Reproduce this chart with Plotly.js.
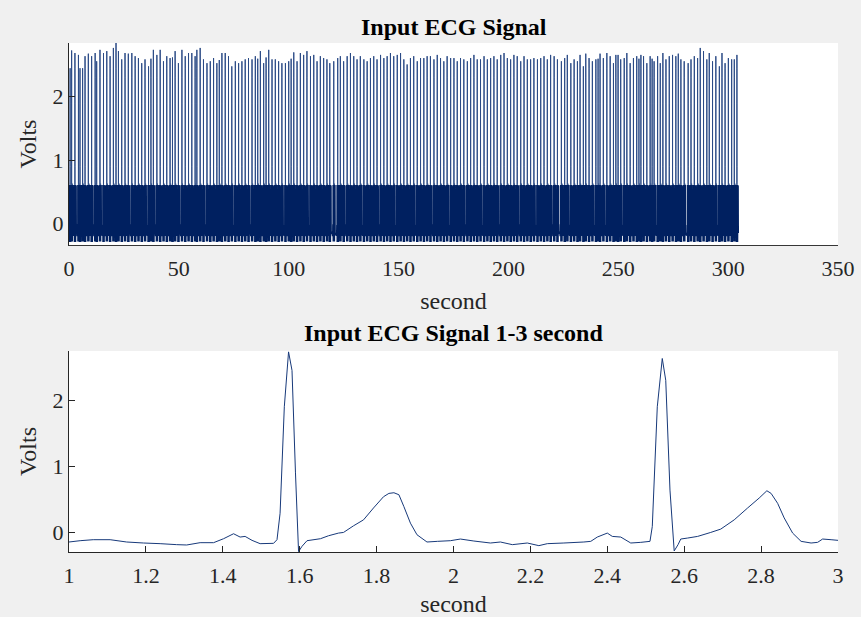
<!DOCTYPE html>
<html>
<head>
<meta charset="utf-8">
<script src="https://cdn.plot.ly/plotly-3.0.1.min.js"></script>
<style>
  html, body { margin: 0; padding: 0; background: #f0f0f0; }
  #chart { width: 861px; height: 617px; }
</style>
</head>
<body>
<div id="chart"></div>
<script>
// ---- Bottom panel: ECG samples 1-3 s ----
const ecgT = [1.000,1.029,1.063,1.107,1.150,1.194,1.237,1.280,1.306,1.341,1.376,1.402,1.428,1.445,1.458,1.476,1.497,1.532,1.541,1.549,1.560,1.571,1.580,1.589,1.597,1.606,1.619,1.654,1.675,1.701,1.714,1.740,1.766,1.792,1.818,1.832,1.845,1.858,1.871,1.888,1.905,1.931,1.958,1.992,2.018,2.053,2.096,2.122,2.153,2.192,2.222,2.244,2.287,2.339,2.357,2.374,2.400,2.413,2.435,2.461,2.487,2.511,2.517,2.530,2.543,2.552,2.563,2.574,2.584,2.591,2.609,2.635,2.669,2.695,2.730,2.765,2.795,2.815,2.826,2.843,2.860,2.882,2.904,2.930,2.947,2.960,2.982,3.000];
const ecgV = [-0.145,-0.125,-0.110,-0.110,-0.145,-0.160,-0.170,-0.185,-0.190,-0.155,-0.155,-0.095,-0.020,-0.070,-0.060,-0.120,-0.170,-0.165,-0.110,0.290,1.900,2.730,2.450,0.900,-0.290,-0.210,-0.125,-0.095,-0.050,-0.010,0.000,0.100,0.190,0.370,0.540,0.590,0.600,0.570,0.390,0.140,-0.035,-0.145,-0.135,-0.125,-0.100,-0.130,-0.160,-0.145,-0.185,-0.160,-0.200,-0.170,-0.160,-0.145,-0.135,-0.070,-0.010,-0.060,-0.070,-0.160,-0.150,-0.135,0.090,1.900,2.630,2.300,0.640,-0.280,-0.185,-0.100,-0.085,-0.060,0.000,0.050,0.190,0.370,0.520,0.630,0.590,0.440,0.220,-0.010,-0.135,-0.160,-0.150,-0.100,-0.110,-0.120];

// ---- Top panel: R-peak times (s) and heights (V) read from the full recording ----
const beatTimes = [0.5,1.2,2.7,4.3,5.0,6.2,7.3,8.8,10.3,11.9,12.6,14.1,15.7,17.2,18.7,20.2,21.4,22.5,24.0,25.5,27.0,28.6,30.1,31.6,33.1,34.6,36.2,37.3,38.4,40.0,41.5,43.0,44.5,46.0,47.1,48.3,49.8,51.4,52.9,54.4,55.9,57.4,58.2,59.7,61.2,62.8,64.3,65.8,67.3,68.4,69.6,71.1,72.6,74.1,75.7,77.2,78.7,80.2,81.7,83.3,84.8,85.9,87.1,88.6,89.7,90.9,92.4,93.9,95.4,96.9,98.5,100.0,101.1,102.3,103.8,105.3,106.8,108.3,109.9,
111.4,112.9,114.4,115.9,117.4,118.7,120.5,122.3,123.5,125.0,126.6,128.1,129.6,131.1,132.6,134.2,135.7,137.2,138.7,140.2,141.8,143.3,144.8,146.3,147.8,149.4,150.9,152.4,153.9,155.4,156.9,158.5,160.0,161.5,163.0,164.5,166.1,167.6,169.1,170.6,172.1,173.7,175.2,176.7,178.2,179.7,181.3,182.8,184.3,185.8,187.3,188.9,190.4,191.9,193.4,194.9,196.5,198.0,199.5,201.0,202.5,204.0,205.6,207.1,208.6,210.1,211.6,213.2,214.7,216.2,217.7,219.2,220.8,222.3,
224.1,225.6,226.8,228.4,229.9,231.4,232.6,234.1,235.2,236.7,238.2,239.8,240.8,241.7,243.2,244.8,246.3,247.8,248.9,249.9,251.1,252.7,253.9,255.4,256.9,258.4,259.4,260.3,261.5,263.0,264.5,265.4,266.3,267.9,269.1,270.3,271.7,273.2,274.7,276.2,277.3,278.5,280.0,281.8,283.1,284.6,286.1,287.3,288.8,290.3,291.4,292.9,294.4,296.0,297.2,298.6,300.1,301.6,302.8,304.0];
const beatPeaks = [2.45,2.73,2.69,2.66,2.43,2.45,2.64,2.68,2.64,2.69,2.56,2.74,2.69,2.72,2.64,2.77,2.85,2.72,2.59,2.69,2.68,2.69,2.64,2.61,2.53,2.59,2.48,2.60,2.74,2.66,2.74,2.56,2.64,2.61,2.62,2.72,2.53,2.74,2.64,2.69,2.69,2.64,2.74,2.77,2.59,2.53,2.56,2.61,2.53,2.58,2.69,2.69,2.64,2.48,2.56,2.53,2.56,2.59,2.61,2.59,2.64,2.60,2.72,2.53,2.62,2.74,2.59,2.59,2.56,2.53,2.53,2.56,2.60,2.70,2.56,2.69,2.66,2.72,2.64,
2.66,2.56,2.64,2.61,2.59,2.53,2.56,2.61,2.64,2.56,2.64,2.69,2.64,2.59,2.64,2.59,2.56,2.61,2.64,2.59,2.66,2.61,2.64,2.69,2.64,2.66,2.69,2.59,2.51,2.61,2.64,2.56,2.61,2.61,2.64,2.64,2.59,2.66,2.61,2.56,2.64,2.61,2.61,2.56,2.61,2.59,2.56,2.61,2.66,2.59,2.59,2.64,2.59,2.61,2.64,2.59,2.66,2.69,2.61,2.59,2.66,2.64,2.56,2.64,2.59,2.59,2.61,2.59,2.61,2.64,2.59,2.66,2.64,2.59,
2.56,2.61,2.66,2.53,2.59,2.56,2.66,2.48,2.68,2.61,2.56,2.59,2.60,2.68,2.61,2.69,2.64,2.53,2.66,2.66,2.59,2.61,2.69,2.53,2.61,2.64,2.60,2.66,2.64,2.53,2.64,2.60,2.56,2.64,2.53,2.69,2.59,2.64,2.66,2.64,2.68,2.59,2.56,2.53,2.59,2.64,2.61,2.77,2.72,2.59,2.69,2.56,2.64,2.48,2.69,2.53,2.61,2.59,2.59,2.66];

// beat shapes taken from the two cycles of the 1-3 s recording
const beatShapes = [
  { ref: 1.571, from: 1.22, to: 1.97 },
  { ref: 2.543, from: 2.19, to: 2.94 }
];

const topX = [], topY = [];
for (let k = 0; k < beatTimes.length; k++) {
  const s = beatShapes[k % 2];
  const tb = beatTimes[k];
  let limit = Infinity;
  if (k + 1 < beatTimes.length) {
    const sn = beatShapes[(k + 1) % 2];
    limit = beatTimes[k + 1] + (sn.from - sn.ref);
  }
  for (let i = 0; i < ecgT.length; i++) {
    const t = ecgT[i];
    if (t < s.from || t > s.to) continue;
    const x = tb + (t - s.ref);
    if (x < 0 || x >= limit) continue;
    topX.push(x);
    topY.push(Math.abs(t - s.ref) < 1e-9 ? beatPeaks[k] : ecgV[i]);
  }
}

const lineColor = '#002060';
const axisColor = '#262626';
const serif = 'Liberation Serif, Times New Roman, serif';
const tickFont = { family: serif, size: 22, color: axisColor };
const labelFont = { family: serif, size: 24, color: axisColor };

// top panel geometry: y range and a clipped copy of the same scale for the dense baseline band
const topRange = [-0.338, 2.848];
const topDomain = [0.603, 1];
const bandTop = 0.61;
const bandDomainTop = topDomain[0] + (bandTop - topRange[0]) / (topRange[1] - topRange[0]) * (topDomain[1] - topDomain[0]);

const axisCommon = {
  showline: true, linecolor: axisColor, linewidth: 1,
  ticks: 'inside', ticklen: 6, tickcolor: axisColor, tickwidth: 1,
  showgrid: false, zeroline: false, tickfont: tickFont, automargin: false,
  fixedrange: true
};

const data = [
  // same samples, drawn thick but clipped to the band below bandTop (dense overlap region)
  { x: topX, y: topY, xaxis: 'x', yaxis: 'y3', type: 'scatter', mode: 'lines',
    line: { color: lineColor, width: 2.6, simplify: false }, hoverinfo: 'skip' },
  // full signal
  { x: topX, y: topY, xaxis: 'x', yaxis: 'y', type: 'scatter', mode: 'lines',
    line: { color: '#2a4a86', width: 1, simplify: false }, hoverinfo: 'skip' },
  { x: ecgT, y: ecgV, xaxis: 'x2', yaxis: 'y2', type: 'scatter', mode: 'lines',
    line: { color: '#17397a', width: 1, simplify: false }, hoverinfo: 'skip' }
];

const layout = {
  width: 861, height: 617,
  margin: { l: 69, r: 23, t: 43, b: 65, pad: 0 },
  paper_bgcolor: '#f0f0f0', plot_bgcolor: '#ffffff',
  showlegend: false,
  xaxis: Object.assign({}, axisCommon, {
    anchor: 'y', domain: [0, 1], range: [0, 350], tick0: 0, dtick: 50,
    ticklabelstandoff: 4,
    title: { text: 'second', font: labelFont, standoff: 11 }
  }),
  yaxis: Object.assign({}, axisCommon, {
    anchor: 'x', domain: topDomain, range: topRange, tickvals: [0, 1, 2],
    title: { text: 'Volts', font: labelFont, standoff: 9 }
  }),
  yaxis3: {
    anchor: 'x', domain: [topDomain[0], bandDomainTop], range: [topRange[0], bandTop],
    visible: false, showgrid: false, zeroline: false, fixedrange: true
  },
  xaxis2: Object.assign({}, axisCommon, {
    anchor: 'y2', domain: [0, 1], range: [1, 3], tick0: 1, dtick: 0.2,
    ticklabelstandoff: 4,
    title: { text: 'second', font: labelFont, standoff: 15 }
  }),
  yaxis2: Object.assign({}, axisCommon, {
    anchor: 'x2', domain: [0, 0.395], range: [-0.296, 2.744], tickvals: [0, 1, 2],
    title: { text: 'Volts', font: labelFont, standoff: 9 }
  }),
  annotations: [
    { text: '<b>Input ECG Signal</b>', xref: 'paper', yref: 'paper', x: 0.5, y: 1.0314,
      xanchor: 'center', yanchor: 'middle', showarrow: false,
      font: { family: serif, size: 24, color: '#000000' } },
    { text: '<b>Input ECG Signal 1-3 second</b>', xref: 'paper', yref: 'paper', x: 0.5, y: 0.430,
      xanchor: 'center', yanchor: 'middle', showarrow: false,
      font: { family: serif, size: 24, color: '#000000' } }
  ]
};

Plotly.newPlot('chart', data, layout, { displayModeBar: false, staticPlot: true });
</script>
</body>
</html>
